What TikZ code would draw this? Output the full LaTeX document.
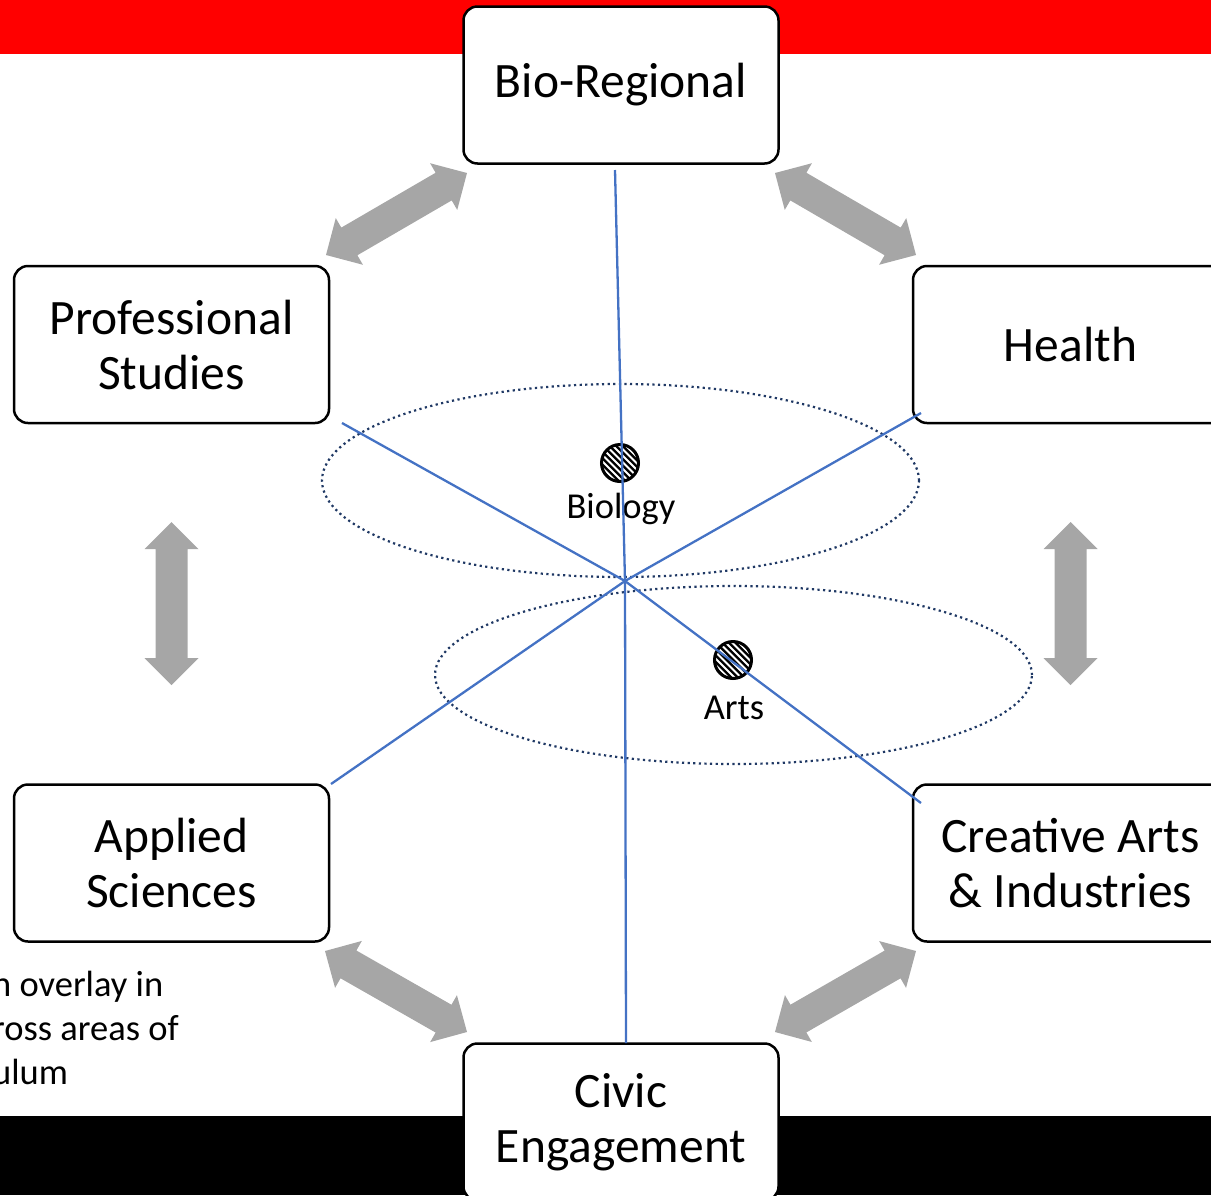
\documentclass[tikz,border=0pt]{standalone}
\usepackage{fontspec}
\setmainfont{Carlito}
\usetikzlibrary{calc}
\definecolor{arrowgray}{RGB}{166,166,166}
\definecolor{lineblue}{RGB}{68,114,196}
\definecolor{dotnavy}{RGB}{31,56,100}
\definecolor{bandred}{RGB}{255,0,0}
\tikzset{
  boxnode/.style={draw=black, line width=2.5pt, fill=white, rounded corners=14pt,
    minimum width=315pt, minimum height=157pt, align=center, inner sep=0pt,
    font=\fontsize{49.5}{55}\selectfont},
  smalllabel/.style={inner sep=0pt, font=\fontsize{36.5}{44}\selectfont},
  spoke/.style={draw=lineblue, line width=2.3pt},
  dotell/.style={draw=dotnavy, line width=2.2pt, dash pattern=on 2.2pt off 3.4pt},
}
\newcommand{\dblarrow}[2]{%
  \path (#1) coordinate (s) (#2) coordinate (e);
  \path ($(s)!27pt!(e)$) coordinate (s1) ($(e)!27pt!(s)$) coordinate (e1);
  \fill[arrowgray] (s) -- ($(s1)!27pt!90:(e)$) -- ($(s1)!16pt!90:(e)$)
    -- ($(e1)!16pt!-90:(s)$) -- ($(e1)!27pt!-90:(s)$) -- (e)
    -- ($(e1)!27pt!90:(s)$) -- ($(e1)!16pt!90:(s)$)
    -- ($(s1)!16pt!-90:(e)$) -- ($(s1)!27pt!-90:(e)$) -- cycle;
}
\newcommand{\hatchdot}[1]{%
  \begin{scope}
    \fill[black] (#1) circle[radius=19pt];
    \clip (#1) circle[radius=19pt];
    \foreach \k in {-42,-35.5,...,42} {
      \draw[white, line width=2.1pt] ($(#1)+(\k-30,-30)$) -- ($(#1)+(\k+30,30)$);
    }
  \end{scope}
  \draw[black, line width=3pt] (#1) circle[radius=18.5pt];
}
\begin{document}
\begin{tikzpicture}[x=1pt,y=-1pt]
\useasboundingbox (0,0) rectangle (1211,1195);
\clip (0,0) rectangle (1211,1195);
% bands
\fill[bandred] (0,0) rectangle (1211,54);
\fill[black] (0,1116) rectangle (1211,1195);
% coordinates for the block arrows
\coordinate (a1s) at (326,255); \coordinate (a1e) at (467,173);
\coordinate (a2s) at (775,173); \coordinate (a2e) at (916,255);
\coordinate (a3s) at (171.5,522); \coordinate (a3e) at (171.5,685);
\coordinate (a4s) at (1070.5,522); \coordinate (a4e) at (1070.5,685);
\coordinate (a5s) at (325,951); \coordinate (a5e) at (467,1032);
\coordinate (a6s) at (775,1032); \coordinate (a6e) at (916,951);
\dblarrow{a1s}{a1e}
\dblarrow{a2s}{a2e}
\dblarrow{a3s}{a3e}
\dblarrow{a4s}{a4e}
\dblarrow{a5s}{a5e}
\dblarrow{a6s}{a6e}
% boxes
\node[boxnode] (bio) at (621,85) {Bio-Regional};
\node[boxnode] (prof) at (171.5,344.5) {Professional\\Studies};
\node[boxnode] (health) at (1070.5,344.5) {Health};
\node[boxnode] (applied) at (171.5,863) {Applied\\Sciences};
\node[boxnode] (creative) at (1070.5,863) {Creative Arts\\\& Industries};
\node[boxnode] (civic) at (621,1122) {Civic\\Engagement};
% side text
\node[smalllabel, anchor=west, align=left] (side) at (-8,1028) {n overlay in\\ross areas of\\ulum};
% dotted ellipses
\draw[dotell] (620.5,480.5) ellipse[x radius=298.5pt, y radius=96.5pt];
\draw[dotell] (733.5,675) ellipse[x radius=298.5pt, y radius=89pt];
% hatched dots and labels
\coordinate (bdot) at (620,463);
\coordinate (adot) at (733,660);
\hatchdot{bdot}
\hatchdot{adot}
\node[smalllabel] (biology) at (621,509) {Biology};
\node[smalllabel] (arts) at (734,708) {Arts};
% spokes
\coordinate (hub) at (625,581);
\coordinate (pt) at (615,170);
\coordinate (pul) at (342,423);
\coordinate (pur) at (921,413);
\coordinate (pll) at (331,784);
\coordinate (plr) at (921,803);
\coordinate (pb) at (626,1043);
\draw[spoke] (hub) -- (pt);
\draw[spoke] (hub) -- (pul);
\draw[spoke] (hub) -- (pur);
\draw[spoke] (hub) -- (pll);
\draw[spoke] (hub) -- (plr);
\draw[spoke] (hub) -- (pb);
\end{tikzpicture}
\end{document}
